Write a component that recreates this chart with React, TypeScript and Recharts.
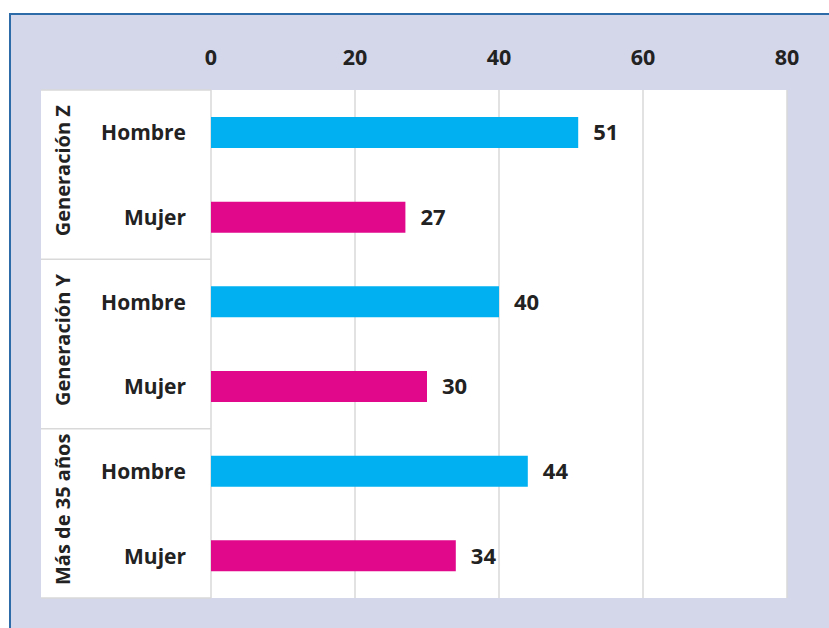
import { BarChart, Bar, XAxis, YAxis, CartesianGrid, Cell, LabelList } from 'recharts';

const groups = ['Generación Z', 'Generación Y', 'Más de 35 años'];
const genders = ['Hombre', 'Mujer'];
const hombreValues = [51, 40, 44];
const mujerValues = [27, 30, 34];
const xTicks = [0, 20, 40, 60, 80];

const genderColors: Record<string, string> = { Hombre: '#00b0f0', Mujer: '#e2088c' };

const rows = groups.flatMap((group, i) => [
  { key: `${group}|${genders[0]}`, group, gender: genders[0], value: hombreValues[i] },
  { key: `${group}|${genders[1]}`, group, gender: genders[1], value: mujerValues[i] },
]);

const W = 829;
const H = 628;
const FONT = '"Open Sans", "Noto Sans", sans-serif';
const TEXT = '#222222';
const GRID = '#d9d9d9';

// plot box
const M = { top: 52, right: 42, bottom: 30, left: 41 };
const X_AXIS_H = 38;
const Y_AXIS_W = 170;

function CategoryTick(props: any) {
  const { x, y, payload, index, height } = props;
  const row = rows[index] || rows.find(r => r.key === payload.value);
  if (!row) return null;
  const band = (height || H - M.top - X_AXIS_H - M.bottom) / rows.length;
  const panelLeft = M.left;
  const panelRight = M.left + Y_AXIS_W;
  const isFirst = row.gender === genders[0];
  return (
    <g>
      <text
        x={x}
        y={y}
        textAnchor="end"
        dominantBaseline="central"
        fill={TEXT}
        fontFamily={FONT}
        fontWeight="bold"
        fontSize={21}
      >
        {row.gender}
      </text>
      {isFirst && (
        <text
          transform={`translate(${panelLeft + 21}, ${y + band / 2 - 4}) rotate(-90)`}
          textAnchor="middle"
          dominantBaseline="central"
          fill={TEXT}
          fontFamily={FONT}
          fontWeight="bold"
          fontSize={20}
        >
          {row.group}
        </text>
      )}
      {isFirst && index === 0 && (
        <line x1={panelLeft} x2={panelRight} y1={y - band / 2} y2={y - band / 2} stroke={GRID} strokeWidth={1.5} />
      )}
      {!isFirst && (
        <line x1={panelLeft} x2={panelRight} y1={y + band / 2} y2={y + band / 2} stroke={GRID} strokeWidth={1.5} />
      )}
    </g>
  );
}

export default function App() {
  const plotTop = M.top + X_AXIS_H;
  const plotBottom = H - M.bottom;
  return (
    <div style={{ position: 'absolute', left: 0, top: 0, width: W, height: H, background: '#ffffff', overflow: 'hidden' }}>
      <div
        style={{
          position: 'absolute',
          left: 9,
          top: 13,
          width: W,
          height: H,
          background: '#d4d7ea',
          borderTop: '2px solid #2c6aa8',
          borderLeft: '2px solid #2c6aa8',
        }}
      />
      <div
        style={{
          position: 'absolute',
          left: M.left,
          top: plotTop,
          width: Y_AXIS_W,
          height: plotBottom - plotTop,
          background: '#ffffff',
        }}
      />
      <div style={{ position: 'absolute', left: 0, top: 0 }}>
        <BarChart width={W} height={H} data={rows} layout="vertical" margin={M}>
          <CartesianGrid horizontal={false} stroke={GRID} strokeWidth={1.5} fill="#ffffff" />
          <XAxis
            type="number"
            orientation="top"
            domain={[0, 80]}
            ticks={xTicks}
            height={X_AXIS_H}
            axisLine={false}
            tickLine={false}
            tickSize={0}
            tickMargin={25}
            tick={{ fill: TEXT, fontFamily: FONT, fontWeight: 'bold', fontSize: 21.5 }}
          />
          <YAxis
            type="category"
            dataKey="key"
            width={Y_AXIS_W}
            axisLine={false}
            tickLine={false}
            tickSize={0}
            tickMargin={25}
            interval={0}
            tick={<CategoryTick />}
          />
          <Bar dataKey="value" barSize={31} isAnimationActive={false}>
            {rows.map(r => (
              <Cell key={r.key} fill={genderColors[r.gender]} />
            ))}
            <LabelList
              dataKey="value"
              position="right"
              offset={15}
              fill={TEXT}
              fontFamily={FONT}
              fontWeight="bold"
              fontSize={22}
            />
          </Bar>
        </BarChart>
      </div>
    </div>
  );
}
